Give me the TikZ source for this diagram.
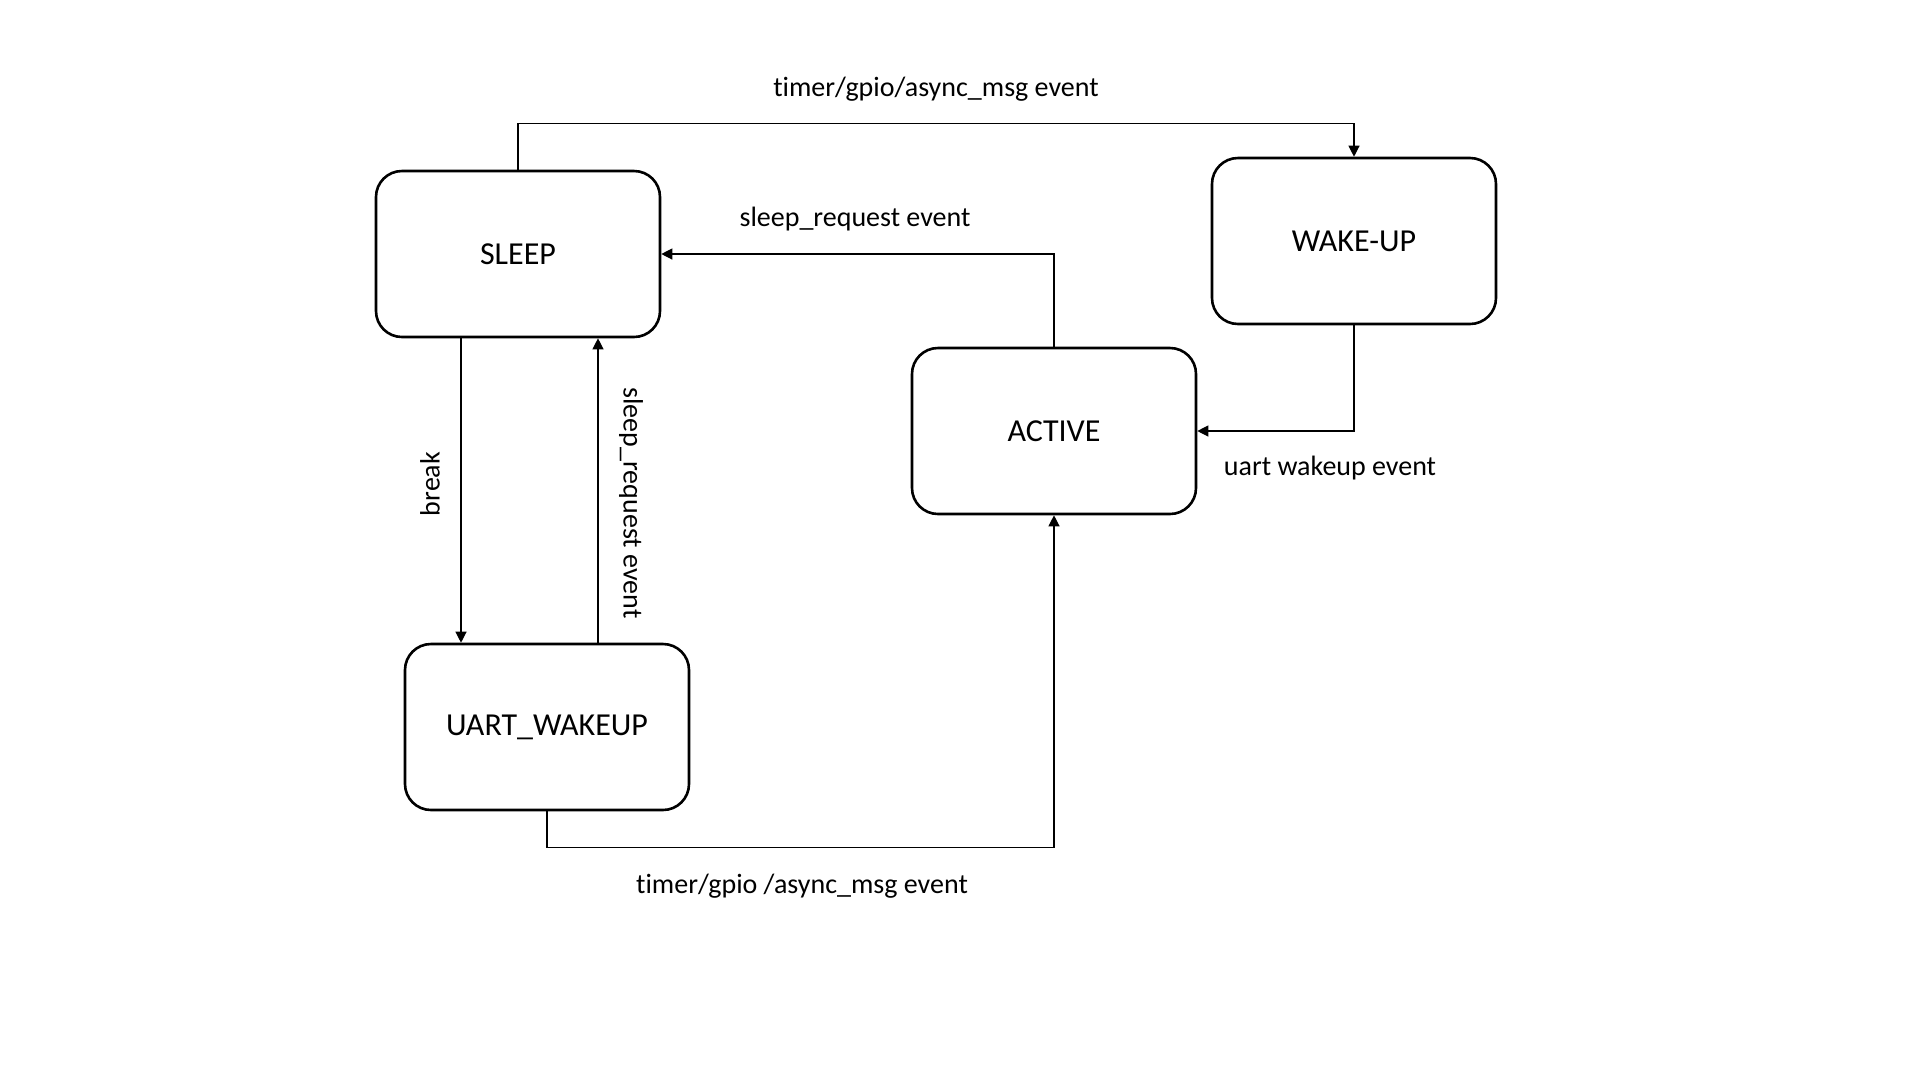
\documentclass[tikz,border=0pt]{standalone}
\usepackage{fontspec}
\setmainfont{Carlito}[Ligatures={NoCommon}]
\usetikzlibrary{arrows.meta}
\begin{document}
\begin{tikzpicture}[x=1pt,y=-1pt,
  state/.style={draw, line width=2.6pt, rounded corners=26pt, minimum width=284pt, minimum height=166pt, inner sep=0pt, font=\fontsize{32}{38}\selectfont},
  conn/.style={line width=1.2pt, -{Triangle[length=11pt,width=11pt]}},
  lbl/.style={inner sep=0pt, font=\fontsize{28}{33}\selectfont}]
\useasboundingbox (0,0) rectangle (1920,1080);
\node[state] (sleep) at (518,254) {\raisebox{-3pt}{SLEEP}};
\node[state] (wake) at (1354,241) {\raisebox{-3pt}{WAKE-UP}};
\node[state] (active) at (1054,431) {\raisebox{-3pt}{ACTIVE}};
\node[state] (uart) at (547,727) {\raisebox{-3pt}{UART\_WAKEUP}};

\draw[conn] (sleep.north) -- ++(0,-46.5) -| (wake.north);
\draw[conn] (active.north) |- (sleep.east);
\draw[conn] (wake.south) |- (active.east);
\draw[conn] ([xshift=-57pt]sleep.south) -- ([xshift=-57pt]sleep.south |- uart.north);
\draw[conn] ([xshift=51pt]uart.north) -- ([xshift=51pt]uart.north |- sleep.south);
\draw[conn] (uart.south) -- ++(0,36) -| (active.south);

\node[lbl] (l1) at (936,89) {timer/gpio/async\_msg event};
\node[lbl] (l2) at (855,219) {sleep\_request event};
\node[lbl] (l3) at (1330,468) {uart wakeup event};
\node[lbl, rotate=90] (l4) at (430,484) {break};
\node[lbl, rotate=-90] (l5) at (631,503) {sleep\_request event};
\node[lbl] (l6) at (802,886) {timer/gpio /async\_msg event};
\end{tikzpicture}
\end{document}
